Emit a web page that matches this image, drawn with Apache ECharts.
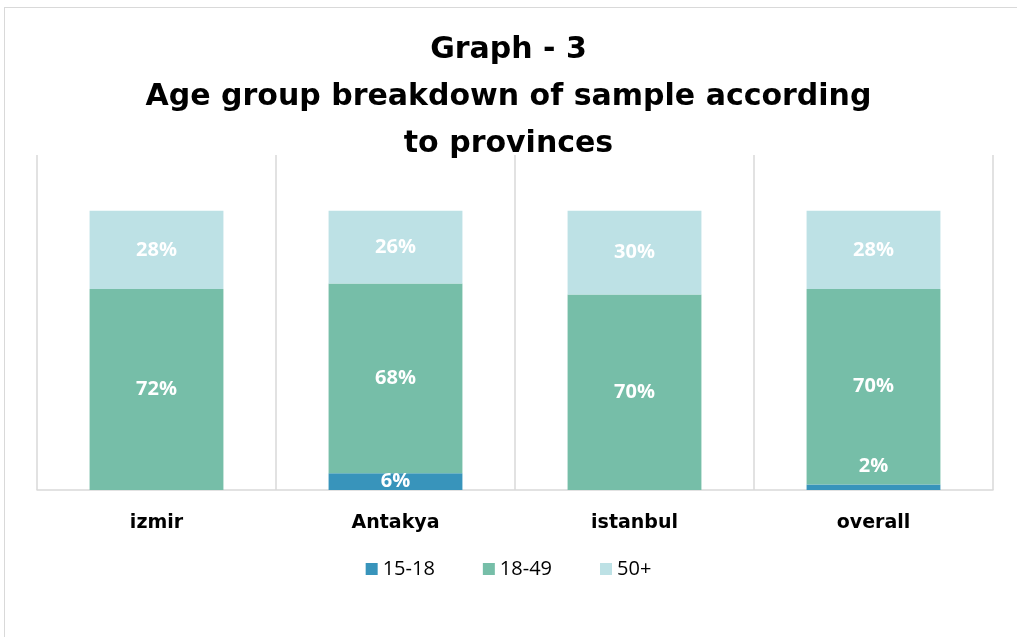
<!DOCTYPE html>
<html>
<head>
<meta charset="utf-8">
<script src="https://cdn.jsdelivr.net/npm/echarts@6/dist/echarts.min.js"></script>
<style>
  html, body { margin: 0; padding: 0; background: #fff; }
  .frame {
    position: absolute;
    left: 4px;
    top: 7px;
    width: 1030px;
    height: 650px;
    border: 1px solid #d9d9d9;
  }
  #main { position: absolute; left: 0; top: 0; width: 1017px; height: 637px; }
</style>
</head>
<body>
<div class="frame"></div>
<div id="main"></div>
<script>
// data
var provinces = ['izmir', 'Antakya', 'istanbul', 'overall'];
var ageGroups = ['15-18', '18-49', '50+'];
var age15to18 = [0, 6, 0, 2];
var age18to49 = [72, 68, 70, 70];
var age50plus = [28, 26, 30, 28];

var colors = ['#3894bb', '#76bea8', '#bde1e5'];

var chartDom = document.getElementById('main');
var myChart = echarts.init(chartDom, null, { renderer: 'canvas' });

var labelStyle = {
  show: true,
  position: 'inside',
  color: '#fff',
  fontSize: 20,
  fontWeight: 'bold',
  fontFamily: 'Open Sans',
  formatter: function (p) { return p.value ? p.value + '%' : ''; }
};

function buildSeries(name, values, idx) {
  return {
    name: name,
    type: 'bar',
    stack: 'age',
    barCategoryGap: '44%',
    itemStyle: { color: colors[idx] },
    label: labelStyle,
    data: values.map(function (v) {
      // small slice in "overall": excel puts label above the thin segment
      if (idx === 0 && v > 0 && v < 4) {
        return { value: v, label: { position: 'top', distance: 8, color: '#fff' } };
      }
      return v;
    })
  };
}

var option = {
  animation: false,
  color: colors,
  title: {
    text: 'Graph - 3\nAge group breakdown of sample according\nto provinces',
    left: 'center',
    top: 22,
    textStyle: {
      fontFamily: 'DejaVu Sans',
      fontWeight: 'bold',
      fontSize: 30,
      lineHeight: 47,
      color: '#000'
    }
  },
  legend: {
    data: ageGroups,
    bottom: 53,
    left: 'center',
    itemWidth: 12,
    itemHeight: 12,
    itemGap: 48,
    icon: 'rect',
    textStyle: { fontFamily: 'Open Sans', fontSize: 20, color: '#000' }
  },
  grid: {
    left: 37,
    right: 24,
    top: 155,
    bottom: 147
  },
  xAxis: {
    type: 'category',
    data: provinces,
    axisLine: { lineStyle: { color: '#d9d9d9', width: 1.5 } },
    axisTick: { show: false },
    splitLine: { show: true, lineStyle: { color: '#d9d9d9', width: 1.5 } },
    axisLabel: {
      margin: 24,
      color: '#000',
      fontFamily: 'DejaVu Sans',
      fontWeight: 'bold',
      fontSize: 19
    }
  },
  yAxis: {
    type: 'value',
    min: 0,
    max: 120,
    show: false,
    splitLine: { show: false }
  },
  series: [
    buildSeries(ageGroups[0], age15to18, 0),
    buildSeries(ageGroups[1], age18to49, 1),
    buildSeries(ageGroups[2], age50plus, 2)
  ]
};

option && myChart.setOption(option);
</script>
</body>
</html>
